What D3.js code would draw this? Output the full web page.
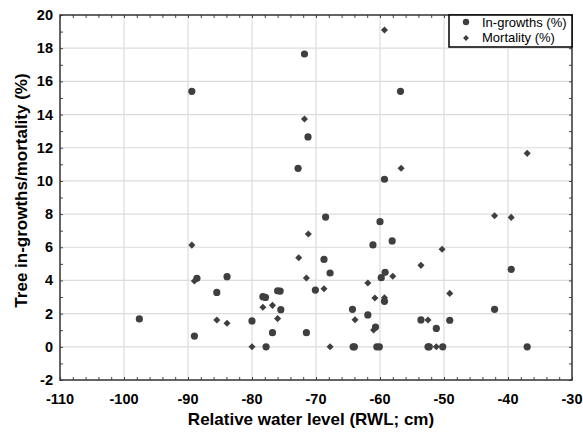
<!DOCTYPE html>
<html>
<head>
<meta charset="utf-8">
<script src="https://cdn.jsdelivr.net/npm/d3@7"></script>
<style>
  body { margin: 0; background: #fff; }
  text { font-family: "Liberation Sans", Arial, sans-serif; }
</style>
</head>
<body>
<div id="chart"></div>
<script>
// data
const ingrowthX = [-97.6,-89.4,-88.6,-89.0,-85.5,-83.9,-80.0,-78.3,-77.9,-77.8,-76.8,-76.0,-75.6,-75.5,-72.8,-71.8,-71.25,-71.5,-70.1,-68.75,-68.5,-67.8,-64.3,-64.2,-64.0,-61.9,-61.1,-60.7,-60.5,-60.1,-60.0,-59.8,-59.3,-59.2,-59.3,-58.1,-56.8,-53.6,-52.5,-52.3,-51.2,-50.2,-49.1,-42.1,-39.5,-37.0];
const ingrowthY = [1.68,15.4,4.13,0.65,3.28,4.23,1.56,3.02,2.98,0,0.85,3.38,3.36,2.24,10.76,17.65,12.65,0.85,3.42,5.27,7.82,4.45,2.26,0,0,1.92,6.14,1.19,0,0,7.54,4.17,10.1,4.49,2.74,6.38,15.4,1.62,0,0,1.11,0,1.6,2.26,4.67,0];
const mortalityX = [-89.4,-89.0,-85.5,-83.9,-80.0,-78.3,-76.8,-76.0,-72.7,-71.8,-71.5,-71.2,-68.75,-67.8,-63.9,-61.9,-61.0,-60.8,-59.3,-59.3,-58.0,-56.7,-53.6,-52.5,-51.2,-50.3,-49.1,-42.1,-39.5,-37.0];
const mortalityY = [6.13,3.97,1.62,1.42,0,2.38,2.5,1.7,5.37,13.73,4.15,6.8,3.5,0,1.63,3.85,1.01,2.94,2.96,19.1,4.25,10.76,4.91,1.62,0,5.88,3.22,7.9,7.8,11.66];
const xTicks = [-110,-100,-90,-80,-70,-60,-50,-40,-30];
const yTicks = [-2,0,2,4,6,8,10,12,14,16,18,20];
const seriesNames = ["In-growths (%)", "Mortality (%)"];

const width = 583, height = 432;
const margin = {top: 15, right: 11, bottom: 52, left: 60};
const markColor = "#3f3f3f";

const x = d3.scaleLinear().domain([-110, -30]).range([margin.left, width - margin.right]);
const y = d3.scaleLinear().domain([-2, 20]).range([height - margin.bottom, margin.top]);

const svg = d3.select("#chart").append("svg").attr("width", width).attr("height", height);

// grid
svg.append("g").selectAll("line").data(xTicks.slice(1, -1)).join("line")
    .attr("x1", d => x(d)).attr("x2", d => x(d))
    .attr("y1", y(-2)).attr("y2", y(20))
    .attr("stroke", "#dcdcdc").attr("stroke-width", 1.2);
svg.append("g").selectAll("line").data(yTicks.slice(1, -1)).join("line")
    .attr("y1", d => y(d)).attr("y2", d => y(d))
    .attr("x1", x(-110)).attr("x2", x(-30))
    .attr("stroke", "#dcdcdc").attr("stroke-width", 1.2);

// axes, ticks inward on all four sides
const xAll = d3.range(-110, -29, 2);
const yAll = d3.range(-2, 20.1, 1);
const inner = g => g.call(s => s.select(".domain").remove());
svg.append("g").attr("transform", `translate(0,${y(-2)})`)
    .call(d3.axisTop(x).tickValues(xAll).tickFormat("").tickSize(3)).call(inner);
svg.append("g").attr("transform", `translate(0,${y(20)})`)
    .call(d3.axisBottom(x).tickValues(xAll).tickFormat("").tickSize(3)).call(inner);
svg.append("g").attr("transform", `translate(${x(-110)},0)`)
    .call(d3.axisRight(y).tickValues(yAll).tickFormat("").tickSize(3)).call(inner);
svg.append("g").attr("transform", `translate(${x(-30)},0)`)
    .call(d3.axisLeft(y).tickValues(yAll).tickFormat("").tickSize(3)).call(inner);
svg.selectAll(".tick line").attr("stroke", "#444");

svg.append("rect")
    .attr("x", x(-110)).attr("y", y(20))
    .attr("width", x(-30) - x(-110)).attr("height", y(-2) - y(20))
    .attr("fill", "none").attr("stroke", "#333").attr("stroke-width", 1.5);

// tick labels
svg.append("g").selectAll("text").data(xTicks).join("text")
    .attr("x", d => x(d)).attr("y", y(-2) + 24)
    .attr("text-anchor", "middle")
    .attr("font-size", 14.5).attr("font-weight", "bold")
    .text(d => d);
svg.append("g").selectAll("text").data(yTicks).join("text")
    .attr("x", x(-110) - 7).attr("y", d => y(d) + 5)
    .attr("text-anchor", "end")
    .attr("font-size", 14.5).attr("font-weight", "bold")
    .text(d => d);

// axis titles
svg.append("text")
    .attr("x", (x(-110) + x(-30)) / 2 - 5).attr("y", height - 7)
    .attr("text-anchor", "middle").attr("font-size", 17).attr("font-weight", "bold")
    .text("Relative water level (RWL; cm)");
svg.append("text")
    .attr("transform", `translate(27,${(y(-2) + y(20)) / 2 - 7}) rotate(-90)`)
    .attr("text-anchor", "middle").attr("font-size", 17).attr("font-weight", "bold")
    .text("Tree in-growths/mortality (%)");

// points
const diamond = d3.symbol().type(d3.symbolDiamond2).size(32);
svg.append("g").selectAll("path").data(mortalityX.map((d, i) => [d, mortalityY[i]])).join("path")
    .attr("transform", d => `translate(${x(d[0])},${y(d[1])})`)
    .attr("d", diamond)
    .attr("fill", markColor);
svg.append("g").selectAll("circle").data(ingrowthX.map((d, i) => [d, ingrowthY[i]])).join("circle")
    .attr("cx", d => x(d[0])).attr("cy", d => y(d[1]))
    .attr("r", 3.6)
    .attr("fill", markColor);

// legend
const lg = svg.append("g");
lg.append("rect")
    .attr("x", 449).attr("y", y(20))
    .attr("width", x(-30) - 449).attr("height", 32)
    .attr("fill", "#fff").attr("stroke", "#000").attr("stroke-width", 1.5);
lg.append("circle").attr("cx", 466).attr("cy", 22).attr("r", 3.2).attr("fill", markColor);
lg.append("path").attr("transform", "translate(466,38)").attr("d", d3.symbol().type(d3.symbolDiamond2).size(22)).attr("fill", markColor);
lg.selectAll("text.lt").data(seriesNames).join("text")
    .attr("class", "lt")
    .attr("x", 482).attr("y", (d, i) => 26.5 + i * 15.5)
    .attr("font-size", 13)
    .text(d => d);
</script>
</body>
</html>
